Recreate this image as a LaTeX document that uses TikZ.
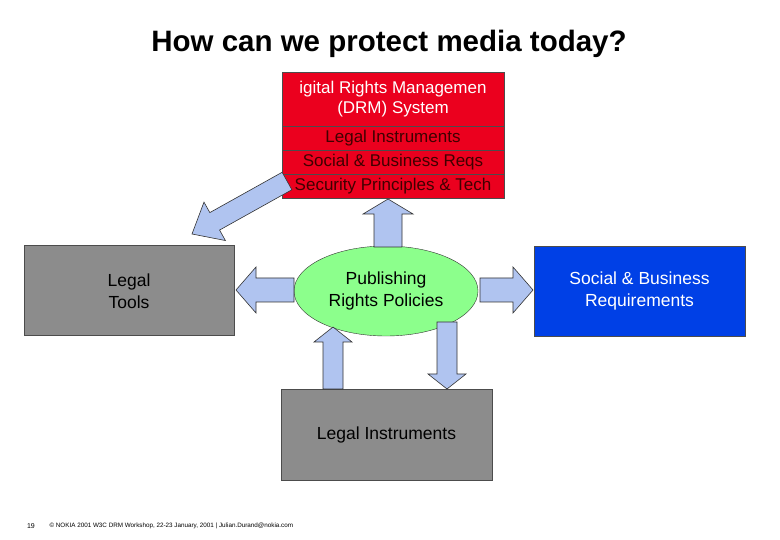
\documentclass[tikz,border=0pt]{standalone}
\usepackage{fontspec}
\setmainfont{Liberation Sans}
\usetikzlibrary{calc,shapes.geometric}
\newcommand\barr[5]{%
\path ($(#2)!#5!(#1)$) coordinate (hh);
\draw[barrowsty] ($(#1)!#3!90:(#2)$) -- ($(hh)!#3!90:(#2)$) -- ($(hh)!#4!90:(#2)$) -- (#2) -- ($(hh)!#4!-90:(#2)$) -- ($(hh)!#3!-90:(#2)$) -- ($(#1)!#3!-90:(#2)$) -- cycle;}
\definecolor{drmred}{RGB}{235,0,30}
\definecolor{boxgray}{RGB}{140,140,140}
\definecolor{sbblue}{RGB}{0,64,230}
\definecolor{ellgreen}{RGB}{140,255,140}
\definecolor{arrblue}{RGB}{176,196,240}
\begin{document}
\begin{tikzpicture}[x=1pt,y=-1pt,
 barrowsty/.style={draw=black!80,fill=arrblue,line width=0.6pt},
 rbox/.style={draw=black!70,fill=drmred,minimum width=222pt,inner sep=0pt,font=\fontsize{17}{20}\selectfont,align=center},
 gbox/.style={draw=black!70,minimum width=210pt,minimum height=90pt,font=\fontsize{17.5}{21.5}\selectfont,align=center}]
\useasboundingbox (0,0) rectangle (780,540);
\fill[white] (0,0) rectangle (780,540);
\node[font=\bfseries\fontsize{29.5}{34}\selectfont] (title) at (389,44) {How can we protect media today?};
% red box
\node[rbox,minimum height=54pt,text=white] (r1) at (393,99) {\makebox[222pt]{igital Rights Managemen}\\(DRM) System};
\node[rbox,minimum height=24pt,text=black!75!red] (r2) at (393,138) {Legal Instruments};
\node[rbox,minimum height=24pt,text=black!75!red] (r3) at (393,162) {Social \& Business Reqs};
\node[rbox,minimum height=24pt,text=black!75!red] (r4) at (393,186) {\makebox[222pt]{Security Principles \& Tech}};
% boxes
\node[gbox,fill=boxgray] (lt) at (129.5,290.5) {};
\node[font=\fontsize{17.5}{21.5}\selectfont,align=center] (ltt) at (129,291) {Legal\\Tools};
\node[gbox,fill=sbblue,text=white,minimum width=211pt] (sb) at (639.5,291) {Social \& Business\\Requirements};
\node[gbox,fill=boxgray,minimum width=211pt,minimum height=91pt] (li) at (386.5,434.5) {Legal Instruments};
\node[draw=black!80,fill=ellgreen,ellipse,minimum width=184pt,minimum height=90pt,inner sep=0pt,font=\fontsize{17.5}{21.5}\selectfont,align=center] (pr) at (386,291) {Publishing\\Rights Policies};
% arrow coordinates
\coordinate (a1s) at (294,290); \coordinate (a1e) at (236,290);
\coordinate (a2s) at (480,290); \coordinate (a2e) at (533,290);
\coordinate (a3s) at (388,247); \coordinate (a3e) at (388,199);
\coordinate (a4s) at (287,181); \coordinate (a4e) at (192,234);
\coordinate (a5s) at (447,322); \coordinate (a5e) at (447,389);
\coordinate (a6s) at (333,389); \coordinate (a6e) at (333,327);
\barr{a1s}{a1e}{12pt}{23pt}{20pt}
\barr{a2s}{a2e}{12pt}{23pt}{20pt}
\barr{a3s}{a3e}{14pt}{25pt}{15pt}
\barr{a4s}{a4e}{10pt}{22pt}{26pt}
\barr{a5s}{a5e}{10pt}{19pt}{15pt}
\barr{a6s}{a6e}{10pt}{19pt}{15pt}
\node[font=\fontsize{7}{8}\selectfont] (pg) at (31,526) {19};
\node[font=\fontsize{6.3}{8}\selectfont,anchor=west] (ft) at (46,526) {© NOKIA 2001 W3C DRM Workshop, 22-23 January, 2001 | Julian.Durand@nokia.com};
\end{tikzpicture}
\end{document}
